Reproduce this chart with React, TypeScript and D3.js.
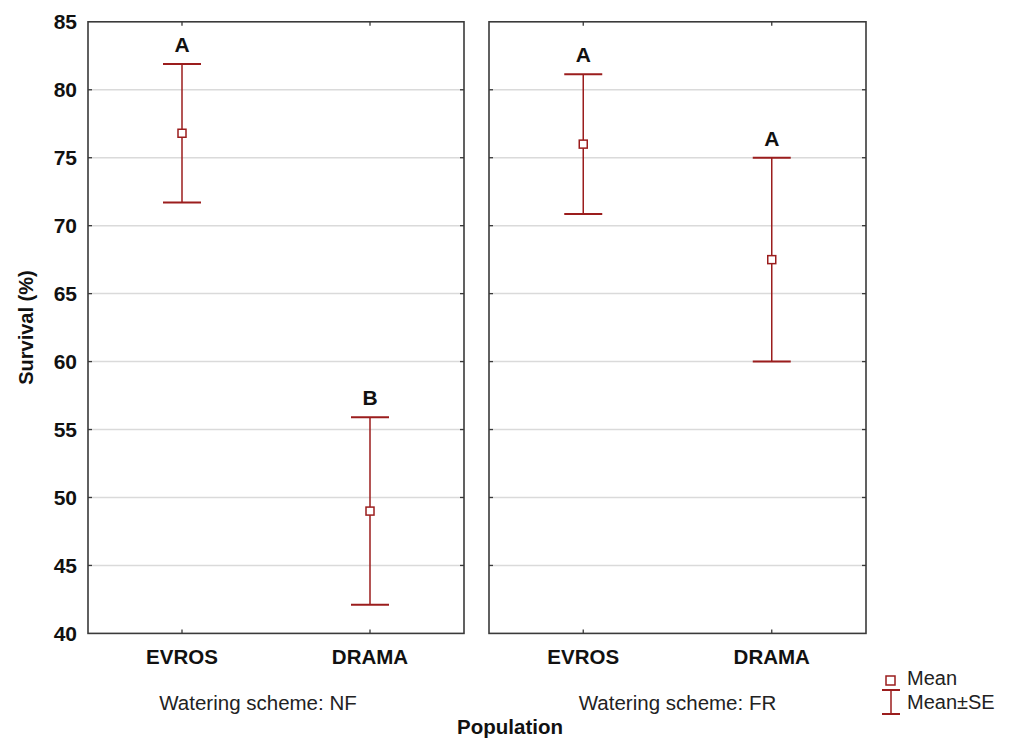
import React from 'react';
import * as d3 from 'd3';

// values
const populations = ['EVROS', 'DRAMA'];
const schemes = ['NF', 'FR'];
const meanNF = [76.8, 49.0];
const seNF = [5.1, 6.9];
const lettersNF = ['A', 'B'];
const meanFR = [76.0, 67.5];
const seFR = [5.15, 7.5];
const lettersFR = ['A', 'A'];
const yTicks = [40, 45, 50, 55, 60, 65, 70, 75, 80, 85];

const W = 1009;
const H = 745;
const top = 21.8;
const bottom = 633.4;
const panels = [
    { x0: 88, x1: 464, scheme: schemes[0], mean: meanNF, se: seNF, letters: lettersNF, labelShift: -18 },
    { x0: 489, x1: 866, scheme: schemes[1], mean: meanFR, se: seFR, letters: lettersFR, labelShift: 0 },
];
const RED = '#9b1d1d';
const FRAME = '#3a3a3a';
const FONT = '"Liberation Sans", Arial, sans-serif';

function Panel({ p, first }) {
    const x = d3.scalePoint().domain(populations).range([p.x0, p.x1]).padding(0.5);
    const y = d3.scaleLinear().domain([40, 85]).range([bottom, top]);
    const inner = yTicks.filter(t => t > 40 && t < 85);
    return (
        <g>
            {inner.map(t => (
                <line key={'g' + t} x1={p.x0} x2={p.x1} y1={y(t)} y2={y(t)} stroke="#dadada" strokeWidth={1.5} />
            ))}
            {inner.map(t => (
                <g key={'t' + t} stroke={FRAME} strokeWidth={1.3}>
                    <line x1={p.x0} x2={p.x0 + 4} y1={y(t)} y2={y(t)} />
                    <line x1={p.x1} x2={p.x1 - 4} y1={y(t)} y2={y(t)} />
                </g>
            ))}
            {populations.map(c => (
                <g key={'ct' + c} stroke={FRAME} strokeWidth={1.3}>
                    <line x1={x(c)} x2={x(c)} y1={top} y2={top + 4} />
                    <line x1={x(c)} x2={x(c)} y1={bottom} y2={bottom - 4} />
                </g>
            ))}
            <rect x={p.x0} y={top} width={p.x1 - p.x0} height={bottom - top} fill="none" stroke={FRAME} strokeWidth={1.6} />
            {first && yTicks.map(t => (
                <text key={'l' + t} x={p.x0 - 11} y={y(t)} dy="0.35em" textAnchor="end"
                    fontFamily={FONT} fontWeight="bold" fontSize={21} fill="#111">{t}</text>
            ))}
            {populations.map((c, i) => {
                const cx = x(c);
                const m = p.mean[i];
                const s = p.se[i];
                return (
                    <g key={'e' + c}>
                        <line x1={cx} x2={cx} y1={y(m + s)} y2={y(m - s)} stroke={RED} strokeWidth={1.5} />
                        <line x1={cx - 19} x2={cx + 19} y1={y(m + s)} y2={y(m + s)} stroke={RED} strokeWidth={2} />
                        <line x1={cx - 19} x2={cx + 19} y1={y(m - s)} y2={y(m - s)} stroke={RED} strokeWidth={2} />
                        <rect x={cx - 4} y={y(m) - 4} width={8} height={8} fill="white" stroke={RED} strokeWidth={1.5} />
                        <text x={cx} y={y(m + s) - 12} textAnchor="middle" fontFamily={FONT} fontWeight="bold"
                            fontSize={21} fill="#111">{p.letters[i]}</text>
                        <text x={cx} y={664} textAnchor="middle" fontFamily={FONT} fontWeight="bold"
                            fontSize={20.5} fill="#111">{c}</text>
                    </g>
                );
            })}
            <text x={(p.x0 + p.x1) / 2 + p.labelShift} y={710} textAnchor="middle" fontFamily={FONT}
                fontSize={20.5} fill="#222">{'Watering scheme: ' + p.scheme}</text>
        </g>
    );
}

export default function App() {
    return (
        <div style={{ position: 'absolute', left: 0, top: 0 }}>
            <svg width={W} height={H} style={{ display: 'block', background: 'white' }}>
                {panels.map((p, i) => <Panel key={p.scheme} p={p} first={i === 0} />)}
                <text transform={`translate(33,${(top + bottom) / 2}) rotate(-90)`} textAnchor="middle"
                    fontFamily={FONT} fontWeight="bold" fontSize={20} fill="#111">Survival (%)</text>
                <text x={510} y={734} textAnchor="middle" fontFamily={FONT} fontWeight="bold" fontSize={20.5}
                    fill="#111">Population</text>
                <g>
                    <rect x={886} y={676} width={9} height={9} fill="white" stroke={RED} strokeWidth={1.5} />
                    <text x={907} y={685} fontFamily={FONT} fontSize={20} fill="#222">Mean</text>
                    <line x1={891} x2={891} y1={690} y2={714} stroke={RED} strokeWidth={1.5} />
                    <line x1={882} x2={900} y1={690} y2={690} stroke={RED} strokeWidth={2} />
                    <line x1={882} x2={900} y1={714} y2={714} stroke={RED} strokeWidth={2} />
                    <text x={907} y={709} fontFamily={FONT} fontSize={20} fill="#222">Mean±SE</text>
                </g>
            </svg>
        </div>
    );
}
